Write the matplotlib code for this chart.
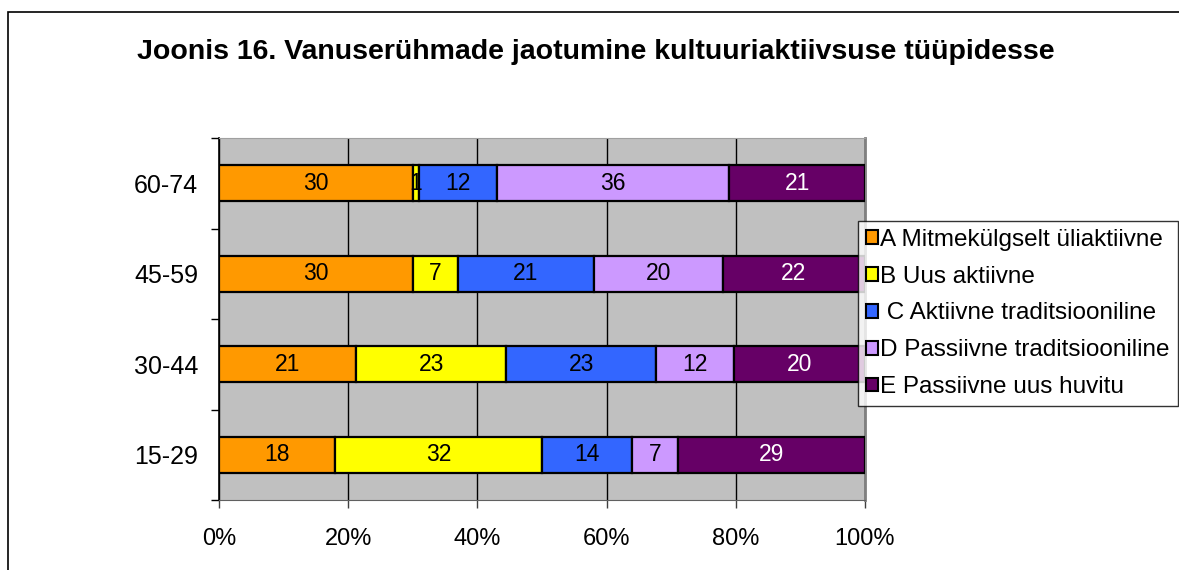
import matplotlib
matplotlib.use("Agg")
import matplotlib.pyplot as plt
from matplotlib.patches import Rectangle
import numpy as np

plt.rcParams['font.family'] = ['Liberation Sans', 'DejaVu Sans']

title = "Joonis 16. Vanuserühmade jaotumine kultuuriaktiivsuse tüüpidesse"
groups = ["15-29", "30-44", "45-59", "60-74"]
series_names = ["A Mitmekülgselt üliaktiivne", "B Uus aktiivne",
                " C Aktiivne traditsiooniline", "D Passiivne traditsiooniline",
                "E Passiivne uus huvitu"]
A = [18, 21, 30, 30]
B = [32, 23, 7, 1]
C = [14, 23, 21, 12]
D = [7, 12, 20, 36]
E = [29, 20, 22, 21]
colors = ["#FF9900", "#FFFF00", "#3366FF", "#CC99FF", "#660066"]
label_colors = ["black", "black", "black", "black", "white"]
xticks = [0, 20, 40, 60, 80, 100]
xticklabels = ["0%", "20%", "40%", "60%", "80%", "100%"]

W, H = 1179, 570
fig = plt.figure(figsize=(W / 100, H / 100), dpi=100)

# outer chart frame
fig.patches.append(Rectangle((8 / W, -0.1), 1.2, 1 - 12 / H + 0.1,
                             transform=fig.transFigure, fill=False,
                             edgecolor="black", linewidth=1.2, zorder=0))

ax = fig.add_axes([219 / W, 1 - 500 / H, (865 - 219) / W, (500 - 138) / H])
ax.set_facecolor("#C0C0C0")

data = np.array([A, B, C, D, E], dtype=float)
totals = data.sum(axis=0)
pct = data / totals * 100
y = np.arange(len(groups))
left = np.zeros(len(groups))
for i, name in enumerate(series_names):
    ax.barh(y, pct[i], left=left, height=0.4, color=colors[i],
            edgecolor="black", linewidth=1.6, label=name, zorder=3)
    for j in range(len(groups)):
        ax.text(left[j] + pct[i][j] / 2, y[j], f"{int(data[i][j])}",
                ha="center", va="center", fontsize=16.5,
                color=label_colors[i], zorder=4)
    left += pct[i]

ax.set_xlim(0, 100)
ax.set_ylim(-0.5, len(groups) - 0.5)
ax.set_xticks(xticks)
ax.set_xticklabels(xticklabels, fontsize=17)
ax.set_yticks(y)
ax.set_yticklabels(groups, fontsize=18)
ax.set_yticks(np.arange(-0.5, len(groups), 1), minor=True)
ax.tick_params(axis="y", which="major", length=0, pad=15)
ax.tick_params(axis="y", which="minor", length=6, width=1, color="black")
ax.tick_params(axis="x", length=6, width=1, color="#404040", pad=14)
ax.xaxis.grid(True, color="black", linewidth=1, zorder=1)
ax.set_axisbelow(True)
ax.spines["left"].set_color("black")
ax.spines["left"].set_linewidth(1.2)
ax.spines["bottom"].set_color("#606060")
ax.spines["right"].set_color("#808080")
ax.spines["right"].set_linewidth(2)
ax.spines["top"].set_color("#A0A0A0")

leg = fig.legend(loc="upper left", bbox_to_anchor=(858 / W, 1 - 221 / H),
                 fontsize=17.5, frameon=True, fancybox=False, shadow=False,
                 handlelength=0.5, handleheight=0.5, handletextpad=0.1,
                 borderaxespad=0, borderpad=0.32, labelspacing=0.61)
leg.get_frame().set_edgecolor("black")
leg.get_frame().set_linewidth(1.0)
for h in leg.legend_handles:
    h.set_linewidth(1.5)

fig.text(596 / W, 1 - 52 / H, title, ha="center", va="center",
         fontsize=20.5, fontweight="bold")

fig.savefig("out.png", dpi=100)
